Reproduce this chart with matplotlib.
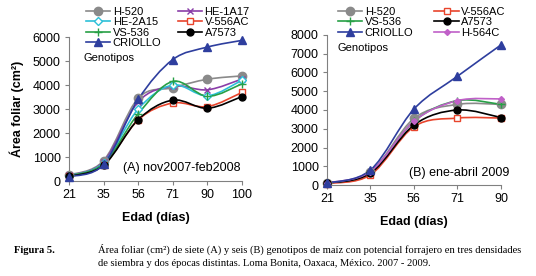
import numpy as np
import matplotlib
matplotlib.use("Agg")
import matplotlib.pyplot as plt
from matplotlib.path import Path
from matplotlib.patches import PathPatch

plt.rcParams['font.family'] = ['Liberation Sans', 'DejaVu Sans']

# panel A: nov2007-feb2008
days_a = ["21", "35", "56", "71", "90", "100"]
h520_a = [250, 850, 3450, 3890, 4240, 4380]
he1a17_a = [230, 800, 3300, 3950, 3800, 4250]
he2a15_a = [220, 760, 3000, 4000, 3550, 4200]
vs536_a = [210, 720, 2800, 4150, 3530, 4050]
v556ac_a = [200, 680, 2550, 3250, 3100, 3690]
a7573_a = [190, 650, 2560, 3370, 3030, 3520]
criollo_a = [180, 690, 3400, 5060, 5580, 5860]

# panel B: ene-abril 2009
days_b = ["21", "35", "56", "71", "90"]
h520_b = [100, 700, 3550, 4300, 4300]
vs536_b = [100, 680, 3400, 4500, 4300]
criollo_b = [100, 800, 4050, 5800, 7470]
v556ac_b = [80, 540, 3110, 3570, 3570]
a7573_b = [100, 630, 3200, 4000, 3600]
h564c_b = [110, 720, 3400, 4500, 4590]

styles = {
    "H-520": dict(color="#8a8a8a", marker="o", ms=6, mfc="#8a8a8a"),
    "HE-1A17": dict(color="#8a3ea8", marker="x", ms=5, mfc="none"),
    "HE-2A15": dict(color="#2cc0d8", marker="D", ms=4, mfc="white"),
    "V-556AC": dict(color="#e8442c", marker="s", ms=5, mfc="white"),
    "VS-536": dict(color="#27a046", marker="+", ms=6, mfc="none"),
    "A7573": dict(color="#000000", marker="o", ms=5, mfc="#000000"),
    "CRIOLLO": dict(color="#2e3e9e", marker="^", ms=6, mfc="#2e3e9e"),
    "H-564C": dict(color="#c060c8", marker="D", ms=3, mfc="#c060c8"),
}


def smooth_path(xs, ys):
    # bezier through the points, like spreadsheet smoothed lines
    xs = np.asarray(xs, float)
    ys = np.asarray(ys, float)
    verts = [(xs[0], ys[0])]
    codes = [Path.MOVETO]
    n = len(xs)
    for i in range(n - 1):
        p0 = (xs[max(i - 1, 0)], ys[max(i - 1, 0)])
        p1 = (xs[i], ys[i])
        p2 = (xs[i + 1], ys[i + 1])
        p3 = (xs[min(i + 2, n - 1)], ys[min(i + 2, n - 1)])
        c1 = (p1[0] + (p2[0] - p0[0]) / 6, p1[1] + (p2[1] - p0[1]) / 6)
        c2 = (p2[0] - (p3[0] - p1[0]) / 6, p2[1] - (p3[1] - p1[1]) / 6)
        verts += [c1, c2, p2]
        codes += [Path.CURVE4] * 3
    return Path(verts, codes)


def draw(ax, name, ys):
    st = styles[name]
    xs = np.arange(len(ys))
    ax.add_patch(PathPatch(smooth_path(xs, ys), fill=False,
                           edgecolor=st["color"], lw=1.2, zorder=2))
    ax.plot(xs, ys, linestyle="none", marker=st["marker"], ms=st["ms"],
            color=st["color"], mfc=st["mfc"], mec=st["color"], mew=1.0,
            zorder=3, clip_on=False)
    # legend proxy
    return ax.plot([], [], color=st["color"], lw=1.2, marker=st["marker"],
                   ms=st["ms"], mfc=st["mfc"], mec=st["color"], mew=1.0,
                   label=name)[0]


def style_axes(ax, labels, ymax, step):
    ax.set_xlim(0, len(labels) - 1)
    ax.set_ylim(0, ymax)
    ax.set_xticks(range(len(labels)))
    ax.set_xticklabels(labels)
    ax.set_yticks(np.arange(0, ymax + 1, step))
    for s in ["top", "right"]:
        ax.spines[s].set_visible(False)
    for s in ["left", "bottom"]:
        ax.spines[s].set_color("#808080")
        ax.spines[s].set_linewidth(0.8)
    ax.tick_params(labelsize=9, length=3, color="#808080", pad=3)
    ax.set_xlabel("Edad (días)", fontsize=9, fontweight="bold", labelpad=8)


fig = plt.figure(figsize=(5.36, 2.76), dpi=100)

ax1 = fig.add_axes([0.1287, 0.3442, 0.3228, 0.5217])
series_a = [("H-520", h520_a), ("HE-1A17", he1a17_a), ("HE-2A15", he2a15_a),
            ("V-556AC", v556ac_a), ("VS-536", vs536_a), ("A7573", a7573_a),
            ("CRIOLLO", criollo_a)]
hs = {}
for name, ys in series_a:
    hs[name] = draw(ax1, name, ys)
style_axes(ax1, days_a, 6000, 1000)
ax1.set_ylabel("Área foliar (cm²)", fontsize=9, fontweight="bold", labelpad=6)
order_a = ["H-520", "HE-2A15", "VS-536", "CRIOLLO", "HE-1A17", "V-556AC", "A7573"]
ax1.legend([hs[n] for n in order_a], order_a, ncol=2, loc="upper left",
           bbox_to_anchor=(86 / 536, 1 - 7 / 276), bbox_transform=fig.transFigure,
           frameon=False, fontsize=8, borderpad=0, borderaxespad=0,
           handlelength=2.2, handletextpad=0.2, labelspacing=0.03,
           columnspacing=1.5)
fig.text(84 / 536, 1 - 58 / 276, "Genotipos", fontsize=8, va="center")
ax1.text(0.99, 0.09, "(A) nov2007-feb2008", transform=ax1.transAxes,
         ha="right", va="center", fontsize=9)

ax2 = fig.add_axes([0.610, 0.3297, 0.3246, 0.5435])
series_b = [("H-520", h520_b), ("V-556AC", v556ac_b), ("VS-536", vs536_b),
            ("A7573", a7573_b), ("H-564C", h564c_b), ("CRIOLLO", criollo_b)]
hs = {}
for name, ys in series_b:
    hs[name] = draw(ax2, name, ys)
style_axes(ax2, days_b, 8000, 1000)
order_b = ["H-520", "VS-536", "CRIOLLO", "V-556AC", "A7573", "H-564C"]
ax2.legend([hs[n] for n in order_b], order_b, ncol=2, loc="upper left",
           bbox_to_anchor=(338 / 536, 1 - 7 / 276), bbox_transform=fig.transFigure,
           frameon=False, fontsize=8, borderpad=0, borderaxespad=0,
           handlelength=2.2, handletextpad=0.2, labelspacing=0.03,
           columnspacing=1.9)
fig.text(337 / 536, 1 - 48 / 276, "Genotipos", fontsize=8, va="center")
ax2.text(1.05, 0.08, "(B) ene-abril 2009", transform=ax2.transAxes,
         ha="right", va="center", fontsize=9)

# caption
fig.text(14 / 536, 1 - 253 / 276, "Figura 5.", family="Liberation Serif",
         fontweight="bold", fontsize=7.6, va="baseline")
fig.text(98 / 536, 1 - 253 / 276,
         "Área foliar (cm²) de siete (A) y seis (B) genotipos de maíz con potencial "
         "forrajero en tres densidades",
         family="Liberation Serif", fontsize=7.6, va="baseline")
fig.text(98 / 536, 1 - 266 / 276,
         "de siembra y dos épocas distintas. Loma Bonita, Oaxaca, México. 2007 - 2009.",
         family="Liberation Serif", fontsize=7.6, va="baseline")

fig.savefig("out.png", dpi=100)
